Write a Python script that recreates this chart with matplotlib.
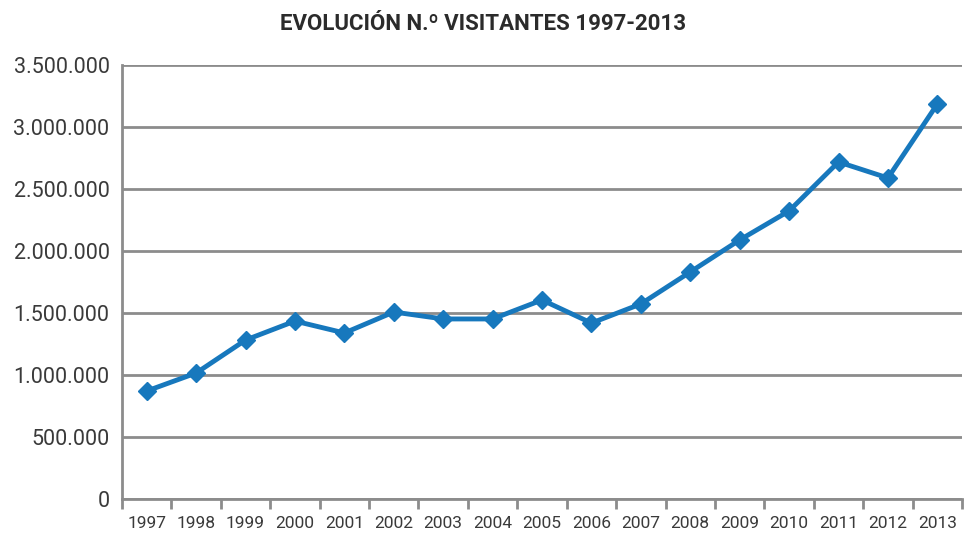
import numpy as np
import matplotlib.pyplot as plt
from matplotlib.ticker import FuncFormatter, FixedLocator

plt.rcParams['font.family'] = ['Roboto', 'DejaVu Sans']

years = ["1997", "1998", "1999", "2000", "2001", "2002", "2003", "2004", "2005",
         "2006", "2007", "2008", "2009", "2010", "2011", "2012", "2013"]
visitantes = [871000, 1016000, 1282000, 1435000, 1339000, 1508000, 1452000, 1452000,
              1605000, 1419000, 1573000, 1831000, 2089000, 2323000, 2718000, 2589000, 3185000]
y_ticks = [0, 500000, 1000000, 1500000, 2000000, 2500000, 3000000, 3500000]

grid_color = "#8c8c8c"
line_color = "#1778bd"

fig = plt.figure(figsize=(9.66, 5.34), dpi=100)
ax = fig.add_axes([0.1263, 0.0655, 0.8696, 0.8128])

x = np.arange(len(years))
ax.plot(x, visitantes, color=line_color, lw=3.5, marker="D", markersize=9,
        markeredgecolor=line_color, zorder=3)

ax.set_xlim(-0.5, len(years) - 0.5)
ax.set_ylim(0, 3500000)
ax.set_yticks(y_ticks)
ax.yaxis.set_major_formatter(FuncFormatter(lambda v, p: f"{int(v):,}".replace(",", ".")))
ax.yaxis.grid(True, color=grid_color, lw=2)
ax.set_axisbelow(True)

ax.set_xticks(x)
ax.set_xticklabels(years)
ax.xaxis.set_minor_locator(FixedLocator(np.arange(-0.5, len(years), 1)))
ax.tick_params(axis="x", which="major", length=0, labelsize=12.5, pad=12, labelcolor="#3a3a3a")
ax.tick_params(axis="x", which="minor", length=7, width=2, color=grid_color)
ax.tick_params(axis="y", length=0, labelsize=15.5, pad=9, labelcolor="#3a3a3a")

for s in ["top", "right"]:
    ax.spines[s].set_visible(False)
for s in ["left", "bottom"]:
    ax.spines[s].set_color(grid_color)
    ax.spines[s].set_linewidth(2)

fig.text(0.5, 0.955, "EVOLUCIÓN N.º VISITANTES 1997-2013", ha="center", va="center",
         fontsize=16, fontweight="bold", color="#2b2b2b")

fig.savefig("out.png", dpi=100)
